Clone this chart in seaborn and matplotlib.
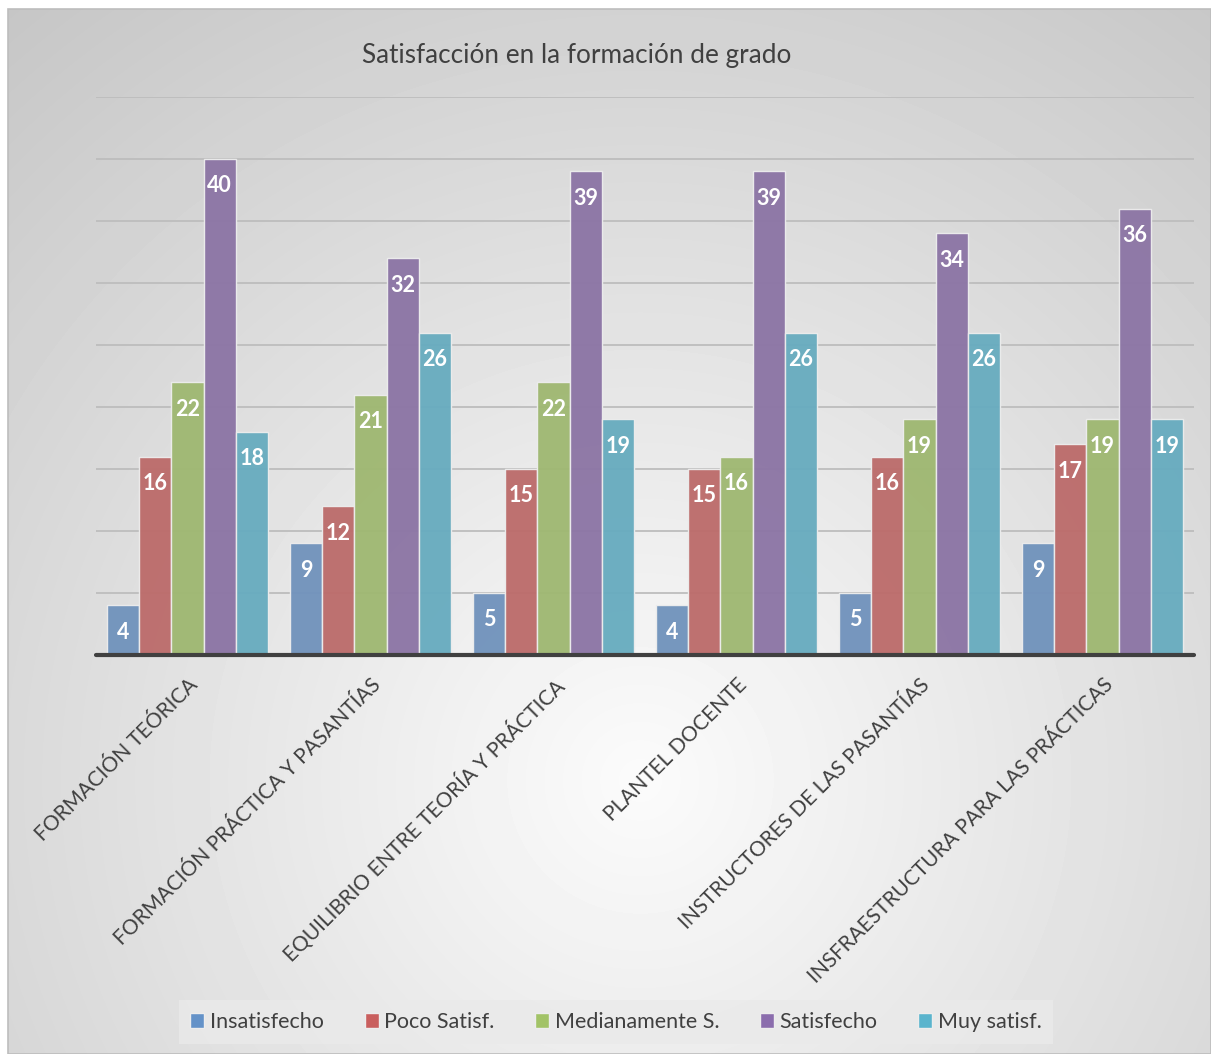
import numpy as np
import pandas as pd
import matplotlib.pyplot as plt
from matplotlib.patches import Rectangle
import seaborn as sns

categories = ["FORMACIÓN TEÓRICA", "FORMACIÓN PRÁCTICA Y PASANTÍAS",
              "EQUILIBRIO ENTRE TEORÍA Y PRÁCTICA", "PLANTEL DOCENTE",
              "INSTRUCTORES DE LAS PASANTÍAS", "INSFRAESTRUCTURA PARA LAS PRÁCTICAS"]
series = ["Insatisfecho", "Poco Satisf.", "Medianamente S.", "Satisfecho", "Muy satisf."]
insatisfecho = [4, 9, 5, 4, 5, 9]
poco_satisf = [16, 12, 15, 15, 16, 17]
medianamente = [22, 21, 22, 16, 19, 19]
satisfecho = [40, 32, 39, 39, 34, 36]
muy_satisf = [18, 26, 19, 26, 26, 19]
colors = ["#6492C8", "#C95F5E", "#A2C367", "#8B6DAD", "#5AB4CD"]

values = [insatisfecho, poco_satisf, medianamente, satisfecho, muy_satisf]
df = pd.DataFrame([(c, s, v) for s, vals in zip(series, values)
                   for c, v in zip(categories, vals)],
                  columns=["categoria", "serie", "valor"])

sns.set_theme(style="white")
plt.rcParams['font.family'] = ['Lato', 'DejaVu Sans']

fig = plt.figure(figsize=(12.11, 10.54), dpi=100)

# background with radial gradient and border
bg = fig.add_axes([0, 0, 1, 1], zorder=0)
bg.set_xlim(0, 1211)
bg.set_ylim(1054, 0)
bg.axis("off")
yy, xx = np.mgrid[9:1054, 8:1211]
d = np.sqrt((xx - 640) ** 2 + (yy - 780) ** 2)
g = np.clip(0.985 - d / 1000 * 0.21, 0, 1)
bg.imshow(g, cmap="gray", vmin=0, vmax=1, extent=(8, 1211, 1054, 9), aspect="auto")
bg.add_patch(Rectangle((8, 9), 1203, 1045, fill=False, edgecolor="#BDBDBD", lw=1.2))

ax = fig.add_axes([96 / 1211, 399 / 1054, 1098 / 1211, 558 / 1054], zorder=1)
ax.patch.set_alpha(0)

sns.barplot(data=df, x="categoria", y="valor", hue="serie", palette=colors,
            width=0.88, gap=0, alpha=0.96, edgecolor="#EDEDED", linewidth=1,
            ax=ax, zorder=3)

for cont in ax.containers:
    ax.bar_label(cont, padding=-27, color="white", fontsize=15.5,
                 fontweight="bold")

ax.set_xlim(-0.5, 5.5)
ax.set_ylim(0, 45)
ax.set_yticks(np.arange(0, 46, 5))
ax.set_yticklabels([])
ax.tick_params(axis="y", length=0)
ax.yaxis.grid(True, color="#BDBDBD", lw=1.3, zorder=0)
ax.set_axisbelow(True)
for sp in ax.spines.values():
    sp.set_visible(False)
ax.axhline(0, color="#404040", lw=3, zorder=5, clip_on=False)

ax.set_xlabel("")
ax.set_ylabel("")
ax.tick_params(axis="x", length=0, pad=14)
for lab in ax.get_xticklabels():
    lab.set_rotation(45)
    lab.set_ha("right")
    lab.set_rotation_mode("anchor")
    lab.set_fontsize(15)
    lab.set_color("#404040")

ax.legend_.remove()
handles = [Rectangle((0, 0), 1, 1, facecolor=c, edgecolor="#EDEDED") for c in colors]
leg = fig.legend(handles, series, loc="center", bbox_to_anchor=(616 / 1211, 32 / 1054),
                 ncol=5, frameon=True, fontsize=15.5, handlelength=0.65, handleheight=0.65,
                 handletextpad=0.25, columnspacing=1.9, fancybox=False,
                 borderpad=0.55)
leg.get_frame().set_facecolor("#EAEAEA")
leg.get_frame().set_edgecolor("none")
for t in leg.get_texts():
    t.set_color("#404040")

fig.text(577 / 1211, 1 - 56 / 1054, "Satisfacción en la formación de grado",
         ha="center", va="center", fontsize=18.8, color="#404040")

fig.savefig("out.png", dpi=100)
